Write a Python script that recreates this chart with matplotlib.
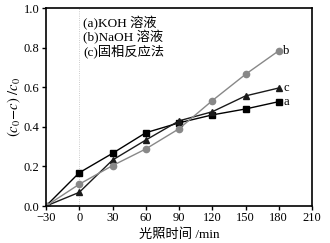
import matplotlib
matplotlib.use("Agg")
import matplotlib.pyplot as plt

plt.rcParams['font.family'] = ['Liberation Serif', 'Noto Sans CJK SC']
plt.rcParams['mathtext.fontset'] = 'stix'

t = [-30, 0, 30, 60, 90, 120, 150, 180]
a_koh = [0.0, 0.168, 0.266, 0.37, 0.42, 0.46, 0.49, 0.527]
b_naoh = [0.0, 0.11, 0.204, 0.288, 0.39, 0.532, 0.665, 0.784]
c_solid = [0.0, 0.069, 0.232, 0.333, 0.43, 0.476, 0.556, 0.596]
legend_lines = ['(a)KOH 溶液', '(b)NaOH 溶液', '(c)固相反应法']
end_labels = ['a', 'b', 'c']
xticks = [-30, 0, 30, 60, 90, 120, 150, 180, 210]
yticks = [0.0, 0.2, 0.4, 0.6, 0.8, 1.0]

fig = plt.figure(figsize=(3.3, 2.43), dpi=100)
ax = fig.add_axes([46/330, 1-206/243, (312-46)/330, (206-8)/243])

ax.axvline(0, color='#bbbbbb', lw=0.6, ls=':', zorder=0)
ax.plot(t, a_koh, color='black', lw=1.0, marker='s', ms=4.5)
ax.plot(t, c_solid, color='#1a1a1a', lw=1.0, marker='^', ms=4.5)
ax.plot(t, b_naoh, color='#888888', lw=1.0, marker='o', ms=4.5)

for lab, ys in zip(end_labels, [a_koh, b_naoh, c_solid]):
    ax.text(t[-1] + 4, ys[-1], lab, fontsize=9, va='center', ha='left')

for i, s in enumerate(legend_lines):
    ax.text(0.14, 0.925 - i * 0.071, s, transform=ax.transAxes, fontsize=9.5,
            va='center', ha='left')

ax.set_xlim(-30, 210)
ax.set_ylim(0, 1.0)
ax.set_xticks(xticks)
ax.set_yticks(yticks)
ax.set_xticklabels(['\u221230' if v < 0 else str(v) for v in xticks])
ax.set_yticklabels([f'{v:.1f}' for v in yticks])
ax.tick_params(direction='out', length=3, width=1, labelsize=9, pad=1.5)
for sp in ax.spines.values():
    sp.set_linewidth(1.2)

ax.set_xlabel('光照时间 /min', fontsize=9.5, labelpad=3)
ax.set_ylabel(r'$(c_0\!-\!c)\ /c_0$', fontsize=10.5, labelpad=1)

fig.savefig('out.png', dpi=100)
